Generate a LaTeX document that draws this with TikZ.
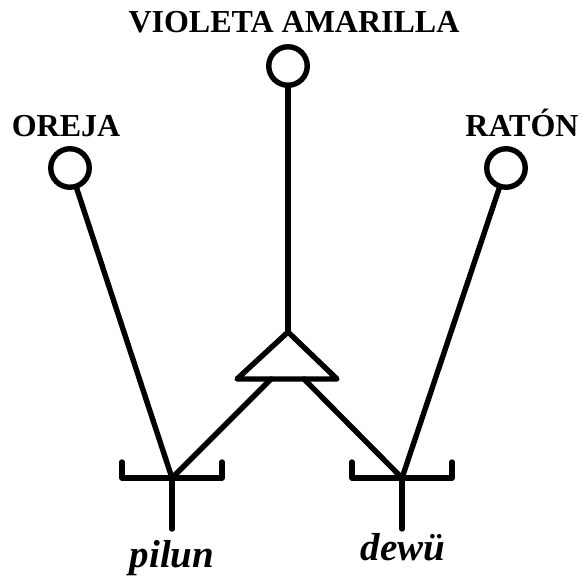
\documentclass[tikz,border=0pt]{standalone}
\usepackage{fontspec}
\setmainfont{Liberation Serif}
\begin{document}
\begin{tikzpicture}[x=1pt,y=-1pt,
  ln/.style={line width=5.4pt,line cap=round,line join=round},
  ring/.style={circle,draw,line width=5.4pt,minimum size=38.5pt,inner sep=0pt},
  lbl/.style={font=\bfseries\fontsize{32}{34}\selectfont,inner sep=0pt},
  wrd/.style={font=\bfseries\itshape\fontsize{39}{42}\selectfont,inner sep=0pt}]
\useasboundingbox (0,0) rectangle (582,582);
% labels
\node[lbl,anchor=base] (tv) at (294,32) {VIOLETA AMARILLA};
\node[lbl,anchor=base] (to) at (66,136) {OREJA};
\node[lbl,anchor=base] (tr) at (522,136) {RATÓN};
% circles
\node[ring] (cv) at (288,66) {};
\node[ring] (co) at (70,168) {};
\node[ring] (cr) at (506,168) {};
% triangle
\coordinate (apex) at (288,332);
\coordinate (bl) at (237,379);
\coordinate (br) at (337,379);
\coordinate (ol) at (271,379);
\coordinate (or) at (304,379);
\draw[ln] (apex) -- (bl) -- (br) -- cycle;
\draw[ln] (cv) -- (apex);
% left fork
\coordinate (jl) at (172,478);
\coordinate (jl1) at (122,462);
\coordinate (jl2) at (122,478);
\coordinate (jl3) at (222,478);
\coordinate (jl4) at (222,462);
\coordinate (sl) at (172,529);
\draw[ln] (jl1) -- (jl2) -- (jl3) -- (jl4);
\draw[ln] (jl) -- (sl);
\draw[ln] (co) -- (jl);
\draw[ln] (ol) -- (jl);
% right fork
\coordinate (jr) at (402,478);
\coordinate (jr1) at (352,462);
\coordinate (jr2) at (352,478);
\coordinate (jr3) at (452,478);
\coordinate (jr4) at (452,462);
\coordinate (sr) at (402,529);
\draw[ln] (jr1) -- (jr2) -- (jr3) -- (jr4);
\draw[ln] (jr) -- (sr);
\draw[ln] (cr) -- (jr);
\draw[ln] (or) -- (jr);
% words
\node[wrd,anchor=base] (wp) at (172,567) {pilun};
\node[wrd,anchor=base] (wd) at (403,560) {dewü};
\end{tikzpicture}
\end{document}
